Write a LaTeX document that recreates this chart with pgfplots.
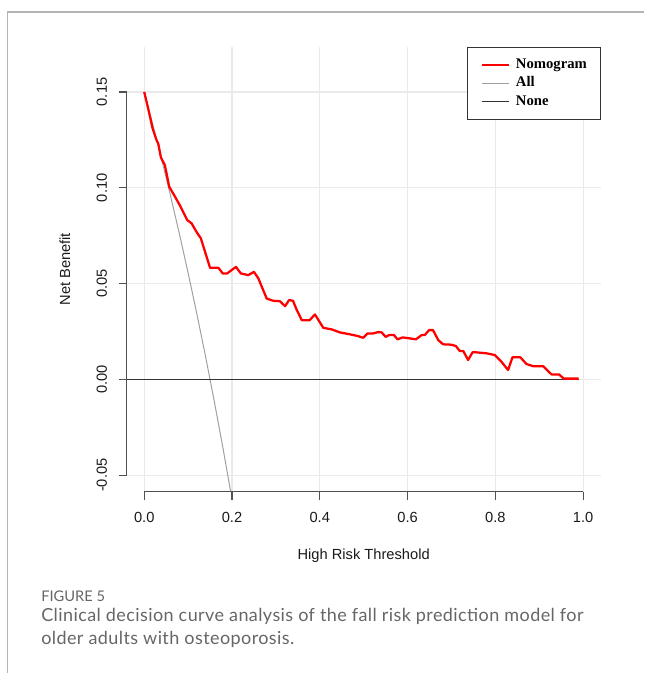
\documentclass[border=0pt]{standalone}
\usepackage{fontspec}
\setmainfont{Liberation Sans}
\newfontfamily\legfont{Liberation Serif}
\newfontfamily\capfont{Lato}[LetterSpace=2.3]
\newfontfamily\figfont{Lato}
\usepackage{pgfplots}
\pgfplotsset{compat=1.18}
\definecolor{nomred}{HTML}{FF0000}
\definecolor{allgray}{HTML}{A0A0A0}
\definecolor{nonegray}{HTML}{333333}
\definecolor{axisgray}{HTML}{505050}
\definecolor{gridgray}{HTML}{EAEAEA}
\definecolor{framegray}{HTML}{B4B4B4}
\definecolor{capgray}{HTML}{666666}
\definecolor{txt}{HTML}{1A1A1A}
\begin{document}
\begin{tikzpicture}
\useasboundingbox (0,0) rectangle (483pt,504.75pt);
\draw[framegray, line width=0.9pt] (5.6pt,0) -- (5.6pt,495.75pt) -- (483pt,495.75pt);
\begin{axis}[
  at={(95pt,135.98pt)}, anchor=south west,
  scale only axis, width=355.5pt, height=333.75pt,
  xmin=-0.04, xmax=1.04, ymin=-0.0586, ymax=0.1736,
  clip mode=individual,
  axis line style={draw=none},
  xtick={0,0.2,0.4,0.6,0.8,1}, xticklabels={0.0,0.2,0.4,0.6,0.8,1.0},
  ytick={-0.05,0,0.05,0.1,0.15}, yticklabels={-0.05,0.00,0.05,0.10,0.15},
  tick pos=left, tick align=outside, major tick length=6pt,
  tick style={draw=axisgray, line width=0.9pt},
  grid=major, grid style={draw=gridgray, line width=0.9pt},
  ticklabel style={font=\fontsize{11}{13}\selectfont, text=txt},
  /pgf/number format/assume math mode=true,
  xticklabel style={anchor=north, inner sep=0pt},
  xticklabel shift=9pt,
  yticklabel style={rotate=90, anchor=south, inner sep=0pt},
  yticklabel shift=8.5pt,
  xlabel={High Risk Threshold},
  ylabel={Net Benefit},
  label style={font=\fontsize{11}{13}\selectfont, text=txt},
  xlabel style={at={([yshift=-48.2pt]axis description cs:0.5,0)}, anchor=center},
  ylabel style={at={([xshift=-46.25pt]axis description cs:0,0.5)}, anchor=center},
  legend style={at={(1,1)}, anchor=north east, draw=nonegray, line width=0.75pt,
    font=\legfont\bfseries\fontsize{11}{13}\selectfont,
    inner xsep=10pt, inner ysep=8.1pt, row sep=3.25pt, column sep=4.3pt,
    nodes={inner sep=0pt, text height=8pt, text depth=2.5pt}},
  legend cell align=left,
  legend image code/.code={\draw[#1] (0pt,0pt) -- (20.7pt,0pt);},
]
% All
\addplot[allgray, line width=0.75pt, forget plot] coordinates {
(0,0.15) (0.02,0.13265) (0.04,0.11458) (0.06,0.09574) (0.08,0.07609)
(0.10,0.05556) (0.12,0.03409) (0.14,0.01163) (0.16,-0.01190)
(0.18,-0.03659) (0.20,-0.0625)
};
% None
\addplot[nonegray, line width=0.9pt, forget plot] coordinates {
(-0.04,0) (0.99,0)
};
% Nomogram
\addplot[nomred, line width=1.7pt, line join=round] coordinates {
(0,0.150) (0.0098,0.1405) (0.019,0.131) (0.028,0.1248) (0.032,0.123)
(0.038,0.1158) (0.047,0.1118) (0.057,0.1005) (0.066,0.097) (0.081,0.0909)
(0.098,0.0831) (0.108,0.0814) (0.119,0.077) (0.129,0.0736) (0.150,0.0582)
(0.169,0.0582) (0.179,0.0553) (0.189,0.0553) (0.209,0.0587) (0.220,0.0553)
(0.237,0.0544) (0.250,0.0561) (0.260,0.0527) (0.279,0.0422) (0.294,0.0410)
(0.309,0.0408) (0.321,0.0382) (0.330,0.0414) (0.339,0.0410) (0.347,0.0365)
(0.359,0.0309) (0.377,0.0309) (0.389,0.0339) (0.408,0.0269) (0.427,0.0261)
(0.446,0.0245) (0.469,0.0235) (0.487,0.0226) (0.499,0.0217) (0.509,0.0240)
(0.522,0.0240) (0.533,0.0247) (0.541,0.0245) (0.550,0.0222) (0.558,0.0231)
(0.569,0.0231) (0.577,0.0209) (0.589,0.0219) (0.605,0.0214) (0.619,0.0209)
(0.632,0.0231) (0.639,0.0231) (0.649,0.0257) (0.658,0.0257) (0.670,0.0205)
(0.681,0.0183) (0.700,0.0181) (0.710,0.0174) (0.719,0.0148) (0.727,0.0148)
(0.738,0.0101) (0.748,0.0141) (0.757,0.0141) (0.780,0.0136) (0.799,0.0127)
(0.814,0.0092) (0.829,0.0049) (0.839,0.0115) (0.857,0.0115) (0.871,0.0080)
(0.886,0.0069) (0.909,0.0069) (0.928,0.0026) (0.945,0.0026) (0.956,0.0004)
(0.990,0.0004)
};
\addlegendentry{Nomogram}
\addlegendimage{allgray, line width=0.75pt}
\addlegendentry{All}
\addlegendimage{nonegray, line width=0.9pt}
\addlegendentry{None}
% R-style axis lines
\draw[axisgray, line width=0.9pt] (axis cs:0,-0.0586) -- (axis cs:1,-0.0586);
\draw[axisgray, line width=0.9pt] (axis cs:-0.04,-0.05) -- (axis cs:-0.04,0.15);
\end{axis}
\node[anchor=base west, inner sep=0pt, font=\figfont\fontsize{11}{13}\selectfont, text=capgray] at (30.75pt,53.25pt) {FIGURE 5};
\node[anchor=base west, inner sep=0pt, font=\capfont\fontsize{13.5}{16}\selectfont, text=capgray] at (30.75pt,38.5pt) {Clinical decision curve analysis of the fall risk prediction model for};
\node[anchor=base west, inner sep=0pt, font=\capfont\fontsize{13.5}{16}\selectfont, text=capgray] at (30.75pt,21.25pt) {older adults with osteoporosis.};
\end{tikzpicture}
\end{document}
